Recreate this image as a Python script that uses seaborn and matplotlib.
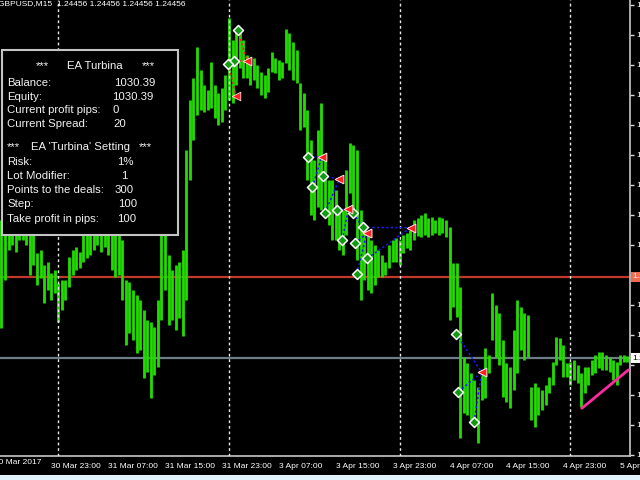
import numpy as np
import pandas as pd
import matplotlib
matplotlib.use("Agg")
import matplotlib.pyplot as plt
import matplotlib.transforms as mtransforms
from matplotlib.patches import Rectangle
import seaborn as sns

# ---------------- data ----------------
symbol = "GBPUSD,M15"
bid = 1.24456
stop_level = 1.24727

# M15 bars counted from 31 Mar 00:00, one column every 2 bars
first_bar = -32
bar_step = 2

highs = [
    1.24917, 1.24917, 1.24933, 1.24933, 1.24933, 1.24950, 1.24950, 1.24933, 1.24900, 1.24883,
    1.24807, 1.24817, 1.24767, 1.24777, 1.24740, 1.24750, 1.24707, 1.24717, 1.24717, 1.24793,
    1.24817, 1.24827, 1.24810, 1.24883, 1.24900, 1.24917, 1.24933, 1.24950, 1.24950, 1.24933,
    1.24917, 1.24900, 1.24883, 1.24867, 1.24850, 1.24717, 1.24710, 1.24683, 1.24667, 1.24650,
    1.24617, 1.24583, 1.24577, 1.24560, 1.24650, 1.24883, 1.24883, 1.24800, 1.24750, 1.24767,
    1.24777, 1.24817, 1.25150, 1.25317, 1.25390, 1.25493, 1.25417, 1.25367, 1.25350, 1.25443,
    1.25367, 1.25340, 1.25357, 1.25400, 1.25590, 1.25517, 1.25557, 1.25543, 1.25517, 1.25467,
    1.25450, 1.25457, 1.25433, 1.25410, 1.25400, 1.25423, 1.25477, 1.25457, 1.25450, 1.25443,
    1.25553, 1.25540, 1.25510, 1.25483, 1.25373, 1.25340, 1.25283, 1.25183, 1.25117, 1.25217,
    1.25307, 1.25117, 1.25050, 1.25050, 1.25017, 1.24960, 1.24950, 1.25083, 1.25173, 1.25167,
    1.25150, 1.24950, 1.24893, 1.24867, 1.24850, 1.24833, 1.24817, 1.24800, 1.24777, 1.24833,
    1.24850, 1.24857, 1.24850, 1.24867, 1.24873, 1.24883, 1.24917, 1.24923, 1.24933, 1.24940,
    1.24923, 1.24927, 1.24917, 1.24927, 1.24923, 1.24917, 1.24893, 1.24773, 1.24773, 1.24693,
    1.24460, 1.24440, 1.24407, 1.24383, 1.24360, 1.24417, 1.24490, 1.24467, 1.24673, 1.24633,
    1.24607, 1.24517, 1.24440, 1.24427, 1.24550, 1.24650, 1.24627, 1.24607, 1.24600, 1.24360,
    1.24373, 1.24360, 1.24350, 1.24367, 1.24393, 1.24443, 1.24527, 1.24523, 1.24500, 1.24440,
    1.24443, 1.24450, 1.24433, 1.24407, 1.24427, 1.24427, 1.24450, 1.24467, 1.24477, 1.24477,
    1.24467, 1.24460, 1.24450, 1.24443, 1.24467, 1.24467, 1.24463,
]
lows = [
    1.24557, 1.24717, 1.24817, 1.24833, 1.24810, 1.24850, 1.24850, 1.24833, 1.24733, 1.24767,
    1.24700, 1.24723, 1.24640, 1.24683, 1.24650, 1.24673, 1.24577, 1.24617, 1.24650, 1.24693,
    1.24733, 1.24750, 1.24757, 1.24777, 1.24790, 1.24800, 1.24817, 1.24833, 1.24810, 1.24827,
    1.24800, 1.24750, 1.24727, 1.24733, 1.24650, 1.24500, 1.24540, 1.24517, 1.24473, 1.24483,
    1.24390, 1.24410, 1.24323, 1.24400, 1.24427, 1.24583, 1.24683, 1.24567, 1.24583, 1.24550,
    1.24590, 1.24530, 1.24650, 1.25050, 1.25183, 1.25267, 1.25283, 1.25277, 1.25283, 1.25290,
    1.25257, 1.25233, 1.25243, 1.25283, 1.25317, 1.25307, 1.25367, 1.25423, 1.25390, 1.25390,
    1.25367, 1.25383, 1.25357, 1.25333, 1.25323, 1.25343, 1.25410, 1.25407, 1.25383, 1.25390,
    1.25440, 1.25417, 1.25383, 1.25373, 1.25217, 1.25227, 1.25050, 1.24933, 1.24917, 1.24960,
    1.24950, 1.24940, 1.24900, 1.24850, 1.24850, 1.24817, 1.24800, 1.24867, 1.25007, 1.24950,
    1.24783, 1.24650, 1.24717, 1.24683, 1.24673, 1.24700, 1.24727, 1.24727, 1.24733, 1.24757,
    1.24777, 1.24777, 1.24767, 1.24807, 1.24823, 1.24817, 1.24850, 1.24863, 1.24860, 1.24867,
    1.24860, 1.24867, 1.24873, 1.24867, 1.24873, 1.24860, 1.24583, 1.24627, 1.24593, 1.24190,
    1.24273, 1.24267, 1.24250, 1.24233, 1.24173, 1.24317, 1.24323, 1.24407, 1.24517, 1.24460,
    1.24433, 1.24327, 1.24310, 1.24290, 1.24350, 1.24407, 1.24483, 1.24450, 1.24460, 1.24250,
    1.24227, 1.24267, 1.24283, 1.24300, 1.24340, 1.24367, 1.24433, 1.24450, 1.24393, 1.24393,
    1.24367, 1.24383, 1.24373, 1.24293, 1.24340, 1.24367, 1.24400, 1.24407, 1.24423, 1.24417,
    1.24417, 1.24410, 1.24383, 1.24367, 1.24433, 1.24443, 1.24443,
]

# trades: open bar / price -> close bar / price
sell_open_bar = [101, 99, 95.6]
sell_open_px = [1.25550, 1.25448, 1.25437]
sell_close_bar = [106, 106, 100]
sell_close_px = [1.25448, 1.25448, 1.25331]

buy_open_bar = [140.6, 142.9, 148.7, 150.0, 156.9, 159.7, 165.9, 166.9, 171.5, 173.8, 167.8,
                223.7, 225.0, 233.8]
buy_open_px = [1.25128, 1.25026, 1.25064, 1.24941, 1.24950, 1.24850, 1.24939, 1.24839, 1.24892,
               1.24789, 1.24737, 1.24537, 1.24344, 1.24244]
buy_close_bar = [148.1, 148.1, 158.0, 158.0, 163.1, 163.1, 173.5, 173.5, 198.2, 198.2, 173.5,
                 238.1, 238.1, 238.1]
buy_close_px = [1.25128, 1.25128, 1.25053, 1.25053, 1.24953, 1.24953, 1.24872, 1.24872, 1.24891,
                1.24891, 1.24872, 1.24409, 1.24409, 1.24409]

trend_bar = [294.4, 320.6]
trend_px = [1.24289, 1.24417]

day_breaks = [0, 96, 192, 288]
time_ticks = [-4, 28, 60, 92, 124, 156, 188, 220, 252, 284, 316]
time_labels = ["30 Mar 23:00", "31 Mar 07:00", "31 Mar 15:00", "31 Mar 23:00",
               "3 Apr 07:00", "3 Apr 15:00", "3 Apr 23:00", "4 Apr 07:00",
               "4 Apr 15:00", "4 Apr 23:00", "5 Apr 07:00"]
price_ticks = [1.25635, 1.25535, 1.25435, 1.25335, 1.25235, 1.25135, 1.25035, 1.24935,
               1.24835, 1.24735, 1.24635, 1.24535, 1.24435, 1.24335, 1.24235, 1.24135]

panel_rows = [("Balance:", "1030.39"), ("Equity:", "1030.39"),
              ("Current profit pips:", "0"), ("Current Spread:", "20")]
setting_rows = [("Risk:", "1%"), ("Lot Modifier:", "1"), ("Points to the deals:", "300"),
                ("Step:", "100"), ("Take profit in pips:", "100")]

# ---------------- plot ----------------
sns.set_theme(style="dark")
plt.rcParams["font.family"] = ["Liberation Sans", "DejaVu Sans"]

W, H = 640, 480
fig = plt.figure(figsize=(6.4, 4.8), dpi=100, facecolor="black")
ax = fig.add_axes([0, 24 / H, 630 / W, 456 / H])
ax.set_facecolor("black")

bars = first_bar + bar_step * np.arange(len(highs))
df = pd.DataFrame({"bar": bars, "high": highs, "low": lows})
ax.vlines(df["bar"], df["low"], df["high"], color="#22dd00", linewidth=2.0, zorder=2)

ax.axhline(stop_level, color="#c0392b", lw=1.6, zorder=1)
ax.axhline(bid, color="#6e7b88", lw=1.6, zorder=1)
for b in day_breaks:
    ax.axvline(b, color="#e8e8e8", lw=1, ls=(0, (2, 2)), zorder=3)

for xo, yo, xc, yc in zip(sell_open_bar, sell_open_px, sell_close_bar, sell_close_px):
    ax.plot([xo, xc], [yo, yc], color="#ff1a1a", lw=1.1, ls=(0, (1.5, 1.5)), zorder=4)
for xo, yo, xc, yc in zip(buy_open_bar, buy_open_px, buy_close_bar, buy_close_px):
    ax.plot([xo, xc], [yo, yc], color="#1a1aff", lw=1.1, ls=(0, (1.5, 1.5)), zorder=4)

sns.lineplot(x=trend_bar, y=trend_px, ax=ax, color="#ff2aa0", lw=2, zorder=4)

opens = pd.DataFrame({"bar": sell_open_bar + buy_open_bar, "px": sell_open_px + buy_open_px})
closes = pd.DataFrame({"bar": sell_close_bar + buy_close_bar, "px": sell_close_px + buy_close_px})
sns.scatterplot(data=opens, x="bar", y="px", ax=ax, marker="D", s=26,
                color="#139a13", edgecolor="white", linewidth=1.1, zorder=5)
sns.scatterplot(data=closes, x="bar", y="px", ax=ax, marker="<", s=38,
                color="#ff2020", edgecolor="#ffdddd", linewidth=0.6, zorder=5)

ax.set_xlim(-32.79, 321.5)
ax.set_ylim(1.2565 - 456 / 30000, 1.2565)
ax.set_xlabel("")
ax.set_ylabel("")
ax.grid(False)

ax.set_xticks(time_ticks)
ax.set_xticklabels(time_labels, ha="left")
ax.yaxis.tick_right()
ax.set_yticks(price_ticks)
# the two price boxes sit over the nearest tick labels
ylabels = ["" if min(abs(p - stop_level), abs(p - bid)) < 0.0003 else f"{p:.5f}"
           for p in price_ticks]
ax.set_yticklabels(ylabels)
ax.tick_params(axis="both", colors="#d8d8d8", labelcolor="white", labelsize=6,
               length=3, width=1, direction="out", pad=1.5)
ax.tick_params(axis="x", pad=2)
blend = mtransforms.blended_transform_factory(ax.transData, ax.transAxes)
ax.text(-36, -0.006, "30 Mar 2017", transform=blend, ha="left", va="top",
        fontsize=6, color="white", clip_on=False)

for side in ["top", "left"]:
    ax.spines[side].set_visible(False)
for side in ["right", "bottom"]:
    ax.spines[side].set_color("#c8c8c8")
    ax.spines[side].set_linewidth(1.2)

yblend = mtransforms.blended_transform_factory(ax.transAxes, ax.transData)
ax.text(1.004, stop_level, f"{stop_level:.5f}", transform=yblend, ha="left", va="center",
        fontsize=6, color="white", clip_on=False,
        bbox=dict(fc="#f26b4f", ec="none", pad=1.2))
ax.text(1.004, bid, f"{bid:.5f}", transform=yblend, ha="left", va="center",
        fontsize=6, color="black", clip_on=False,
        bbox=dict(fc="white", ec="none", pad=1.2))

# header line
fig.text(-2.5 / W, 1 - 4 / H, f"{symbol}  " + " ".join([f"{bid:.5f}"] * 4),
         ha="left", va="center", fontsize=6, color="white")

# info panel
def fx(px):
    return px / W

def fy(py):
    return 1 - py / H

fig.add_artist(Rectangle((fx(1.7), fy(235)), 176.6 / W, 185 / H, transform=fig.transFigure,
                         fc="black", ec="#c4c4c4", lw=1.5, zorder=10))
txt = dict(fontsize=8.2, color="#f2f2f2", va="center", ha="left", zorder=11)
fig.text(fx(36), fy(66), "***", **txt)
fig.text(fx(66.7), fy(66), "EA Turbina", **txt)
fig.text(fx(142), fy(66), "***", **txt)
row_y = [83.3, 96.7, 110, 124]
val_x = [114, 112.3, 112.7, 113.3]
for (lab, val), yy, vx in zip(panel_rows, row_y, val_x):
    fig.text(fx(7.3), fy(yy), lab, **txt)
    fig.text(fx(vx), fy(yy), val, **txt)
fig.text(fx(7.3), fy(147), "***", **txt)
fig.text(fx(31), fy(147), "EA 'Turbina' Setting", **txt)
fig.text(fx(139), fy(147), "***", **txt)
row_y = [162.3, 176, 190.3, 204.3, 219]
val_x = [116.7, 121, 115, 117.7, 116.7]
for (lab, val), yy, vx in zip(setting_rows, row_y, val_x):
    fig.text(fx(7.3), fy(yy), lab, **txt)
    fig.text(fx(vx), fy(yy), val, **txt)

# pale strip at the very bottom
fig.add_artist(Rectangle((0, 0), 1, 5 / H, transform=fig.transFigure,
                         fc="#e2f4fb", ec="none", zorder=10))

fig.savefig("out.png", dpi=100, facecolor="black")
